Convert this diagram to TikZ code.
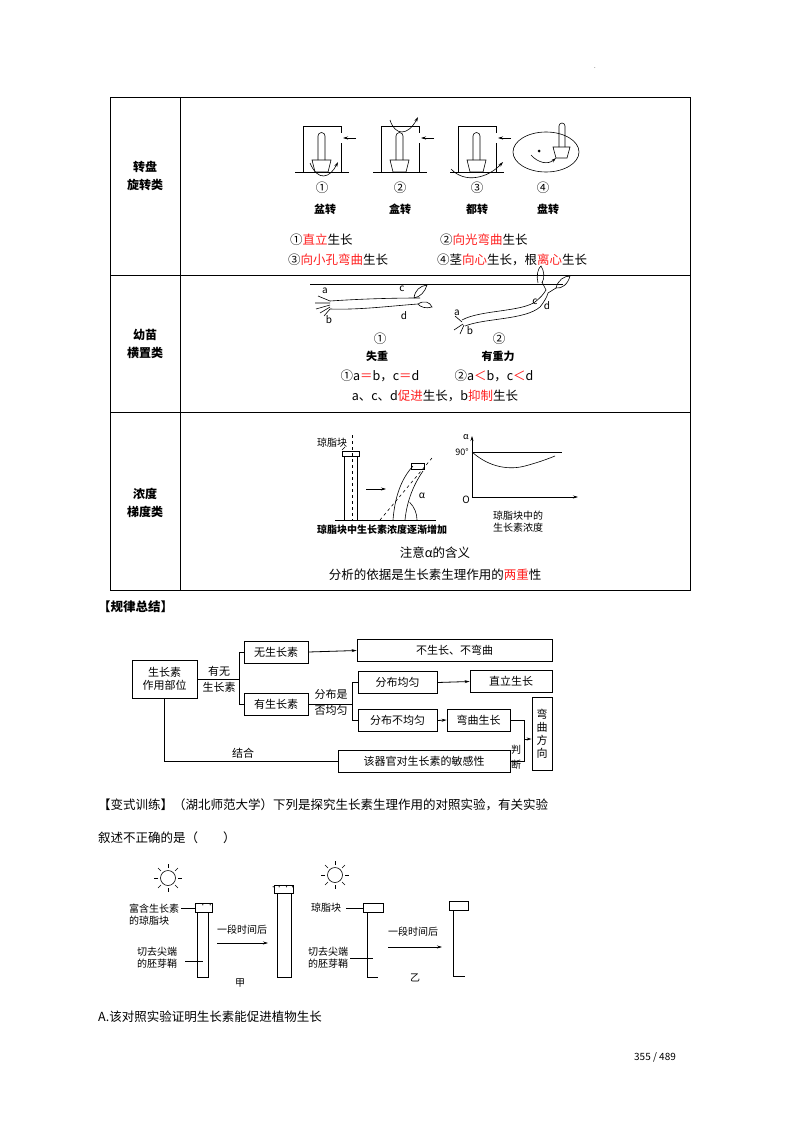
\documentclass[tikz,border=0pt]{standalone}
\usepackage{fontspec}
\setmainfont{Noto Sans CJK SC}
\usetikzlibrary{arrows.meta,calc}
\definecolor{hl}{HTML}{FF2020}
\begin{document}
\begin{tikzpicture}[x=1pt,y=-1pt,
  txt/.style={font=\fontsize{12.5}{14}\selectfont,inner sep=0pt},
  lab/.style={font=\bfseries\fontsize{12}{14}\selectfont,inner sep=0pt,align=center},
  small/.style={font=\fontsize{10}{12}\selectfont,inner sep=0pt,align=center},
  fbox/.style={draw,thick,font=\fontsize{11}{13}\selectfont,inner sep=0pt,minimum height=22pt},
  ft/.style={font=\fontsize{11}{13}\selectfont,inner sep=0pt},
  arr/.style={-{Stealth[length=5pt,width=3pt]}},
  fig/.style={line width=0.6pt}]
\useasboundingbox (0,0) rectangle (800,1132);
\fill[white] (0,0) rectangle (800,1132);
\node[small,font=\fontsize{6}{6}\selectfont] (dot) at (595,68) {.};
% table
\draw[line width=0.9pt] (110,97) rectangle (690,590);
\draw[line width=0.9pt] (180,97) -- (180,590);
\draw[line width=0.9pt] (110,275) -- (690,275) (110,412) -- (690,412);
\node[lab] (l1) at (145,176) {转盘\\[4pt]旋转类};
\node[lab] (l2) at (145,344) {幼苗\\[4pt]横置类};
\node[lab] (l3) at (145,503) {浓度\\[4pt]梯度类};
% row1 figures
\foreach \cx/\k in {322/1,400/2,477/3}{
  \draw[fig] (\cx-27,172) -- (\cx+27,172);
  \draw[fig] (\cx-19,172) -- (\cx-19,126) -- (\cx+19,126) -- (\cx+19,133) (\cx+19,143) -- (\cx+19,172);
  \draw[fig,arr] (\cx+34,138) -- (\cx+21,138);
  \draw[fig] (\cx-10,160) -- (\cx+9,160) -- (\cx+6,172) -- (\cx-7,172) -- cycle;
  \draw[fig] (\cx-4,160) -- (\cx-4,136) arc (180:360:3.5) -- (\cx+3,160);
}
\draw[fig,arr] (310,163) .. controls (318,182) and (330,178) .. (338,162);
\draw[fig,arr] (390,120) .. controls (395,136) and (408,136) .. (418,117);
\draw[fig,arr] (451,169) .. controls (465,184) and (488,178) .. (503,162);
\draw[fig] (546,152) ellipse (33 and 20);
\draw[fig] (553,147) -- (570,147) -- (567,158) -- (556,158) -- cycle;
\draw[fig] (559,147) -- (559,126) arc (180:360:3) -- (565,147);
\fill (539,151) circle (1.5);
\draw[fig,arr] (531,155) .. controls (538,163) and (548,165) .. (556,158);
\node[txt] (n1) at (322,188) {①};
\node[txt] (n2) at (400,188) {②};
\node[txt] (n3) at (477,188) {③};
\node[txt] (n4) at (543,188) {④};
\node[txt,font=\bfseries\fontsize{11}{12}\selectfont] (t1) at (325,209) {盆转};
\node[txt,font=\bfseries\fontsize{11}{12}\selectfont] (t2) at (400,209) {盒转};
\node[txt,font=\bfseries\fontsize{11}{12}\selectfont] (t3) at (477,209) {都转};
\node[txt,font=\bfseries\fontsize{11}{12}\selectfont] (t4) at (548,209) {盘转};
\node[txt,anchor=west] (r1a) at (290,240) {①\textcolor{hl}{直立}生长};
\node[txt,anchor=west] (r1b) at (440,240) {②\textcolor{hl}{向光弯曲}生长};
\node[txt,anchor=west] (r1c) at (288,260) {③\textcolor{hl}{向小孔弯曲}生长};
\node[txt,anchor=west] (r1d) at (437,260) {④茎\textcolor{hl}{向心}生长，根\textcolor{hl}{离心}生长};
% row2 seedlings
\draw[fig] (310,284) -- (563,284);
\draw[fig] (330,301) .. controls (360,299) and (390,298) .. (420,298);
\draw[fig] (330,309) .. controls (360,310) and (390,306) .. (418,304);
\draw[fig] (330,301) -- (318,296) (330,303) -- (315,303) (330,305) -- (316,309) (330,307) -- (320,313) (330,309) -- (324,316);
\draw[fig] (414,298) .. controls (415,290) and (420,286) .. (427,285) .. controls (425,292) and (420,297) .. (414,298);
\draw[fig] (418,304) .. controls (424,300) and (430,302) .. (432,307) .. controls (426,309) and (420,307) .. (418,304);
\node[small] (sa1) at (325,291) {a};
\node[small] (sb1) at (329,320) {b};
\node[small] (sc1) at (402,289) {c};
\node[small] (sd1) at (404,316) {d};
\draw[fig] (462,320) .. controls (480,310) and (520,312) .. (535,302) .. controls (540,298) and (543,295) .. (546,290);
\draw[fig] (465,326) .. controls (485,318) and (525,320) .. (540,307) .. controls (544,302) and (547,297) .. (548,293);
\draw[fig] (462,322) -- (455,316) (463,324) -- (454,330) (464,325) -- (460,334);
\draw[fig] (546,290) -- (542,282);
\draw[fig] (538,283) .. controls (536,276) and (538,268) .. (541,266) .. controls (544,270) and (545,278) .. (542,283);
\draw[fig] (548,293) -- (556,288);
\draw[fig] (556,288) .. controls (558,280) and (564,276) .. (570,276) .. controls (568,284) and (562,289) .. (556,288);
\node[small] (sa2) at (457,313) {a};
\node[small] (sb2) at (470,331) {b};
\node[small] (sc2) at (535,302) {c};
\node[small] (sd2) at (547,306) {d};
\node[txt] (m1) at (380,339) {①};
\node[txt] (m2) at (499,339) {②};
\node[txt,font=\bfseries\fontsize{11}{12}\selectfont] (u1) at (377,356) {失重};
\node[txt,font=\bfseries\fontsize{11}{12}\selectfont] (u2) at (498,356) {有重力};
\node[txt] (e1) at (380,376) {①a\textcolor{hl}{＝}b，c\textcolor{hl}{＝}d};
\node[txt] (e2) at (494,376) {②a\textcolor{hl}{＜}b，c\textcolor{hl}{＜}d};
\node[txt] (e3) at (435,396) {a、c、d\textcolor{hl}{促进}生长，b\textcolor{hl}{抑制}生长};
% row3
\node[small] (qz) at (332,443) {琼脂块};
\draw[fig] (335,520) -- (436,520);
\draw[fig] (344,520) -- (344,456) -- (357,456) -- (357,520);
\draw[fig] (342,451) rectangle (359,456);
\draw[fig,dashed] (352,435) -- (352,520);
\draw[fig] (342,450) -- (345,447);
\draw[fig,arr] (366,489) -- (386,489);
\draw[fig] (393,520) .. controls (395,495) and (402,478) .. (413,466);
\draw[fig] (405,520) .. controls (407,500) and (414,484) .. (423,471);
\draw[fig] (411,463) rectangle (424,469);
\draw[fig,dashed] (380,520) -- (432,458);
\draw[fig] (417,520) arc (0:-45:25);
\node[small,font=\itshape\fontsize{10}{12}\selectfont] (al) at (422,496) {α};
\node[small,font=\bfseries\fontsize{10}{12}\selectfont] (cap1) at (382,530) {琼脂块中生长素浓度逐渐增加};
\coordinate (o) at (472,497);
\draw[fig,arr] (o) -- (472,436);
\draw[fig,arr] (o) -- (578,497);
\draw[fig] (472,452) -- (562,452);
\draw[fig] (472,452) .. controls (490,468) and (510,470) .. (525,466) .. controls (540,462) and (550,458) .. (555,456);
\node[small,font=\itshape\fontsize{9}{10}\selectfont] (ya) at (466,437) {α};
\node[small,font=\fontsize{9}{10}\selectfont] (y90) at (462,452) {90°};
\node[small,font=\itshape\fontsize{10}{10}\selectfont] (oo) at (466,500) {O};
\node[small] (cap2) at (518,522) {琼脂块中的\\生长素浓度};
\node[txt] (z1) at (435,553) {注意α的含义};
\node[txt] (z2) at (435,575) {分析的依据是生长素生理作用的\textcolor{hl}{两重}性};
\node[txt,font=\bfseries\fontsize{12.5}{14}\selectfont,anchor=west] (gl) at (98,607) {【规律总结】};
% flowchart
\node[fbox,minimum width=65pt,minimum height=38pt,align=center] (b0) at (164.5,679) {生长素\\作用部位};
\node[ft,align=center] (yw) at (219,679) {有无\\[3pt]生长素};
\node[fbox,minimum width=64pt] (b1) at (276,652) {无生长素};
\node[fbox,minimum width=64pt] (b2) at (276,704.5) {有生长素};
\node[fbox,minimum width=195pt] (b3) at (454.5,650.5) {不生长、不弯曲};
\node[ft,align=center] (fb) at (331,702) {分布是\\[3pt]否均匀};
\node[fbox,minimum width=79pt] (b4) at (397.5,682.5) {分布均匀};
\node[fbox,minimum width=82pt] (b5) at (511,681.5) {直立生长};
\node[fbox,minimum width=79pt] (b6) at (397.5,720.5) {分布不均匀};
\node[fbox,minimum width=63pt] (b7) at (478.5,720) {弯曲生长};
\node[fbox,minimum width=20pt,minimum height=73pt,align=center] (b8) at (542,733.5) {弯\\曲\\方\\向};
\node[fbox,minimum width=172pt] (b9) at (424,761.5) {该器官对生长素的敏感性};
\node[ft,align=center,font=\fontsize{10}{12}\selectfont] (pd) at (516,757) {判\\[3pt]断};
\node[ft] (jh) at (243,753) {结合};
\draw[thick] (b0.east) -- (239,679);
\draw[thick] (b1.west) -| (239,704.5) -- (b2.west);
\draw[thick,arr] (b1.east) -- (b3.west);
\draw[thick] (b2.east) -- (352,704.5);
\draw[thick] (b4.west) -| (352,720.5) -- (b6.west);
\draw[thick,arr] (b4.east) -- (b5.west);
\draw[thick,arr] (b6.east) -- (b7.west);
\draw[thick] (b7.east) -| (524,745);
\draw[thick] (b9.east) -| (524,745);
\draw[thick,arr] (524,739) -- (b8.west |- 0,739);
\draw[thick] (b0.south) |- (b9.west);
% text
\node[txt,anchor=west] (q1) at (98,805) {【变式训练】（湖北师范大学）下列是探究生长素生理作用的对照实验，有关实验};
\node[txt,anchor=west] (q2) at (98,838) {叙述不正确的是（　　）};
% bottom experiment
\foreach \sx/\sy in {168/878,335/875}{
  \draw[fig] (\sx,\sy) circle (7.5);
  \foreach \a in {0,45,...,315}{\draw[fig] ($(\sx,\sy)+(\a:10)$) -- ($(\sx,\sy)+(\a:14)$);}
}
\draw[fig] (195,903) rectangle (212,912);
\draw[fig] (197,912) rectangle (208,977);
\node[small,font=\fontsize{6}{6}\selectfont] (dd) at (203,906) {· · ·};
\node[small,align=left] (lb1) at (154,915) {富含生长素\\的琼脂块};
\draw[fig] (181,908) -- (195,908);
\node[small,align=left] (lb2) at (157,958) {切去尖端\\的胚芽鞘};
\draw[fig] (185,961) -- (203,961);
\node[small] (t1a) at (242,930) {一段时间后};
\draw[fig,arr] (217,943) -- (268,943);
\draw[fig] (274,885) rectangle (293,893);
\draw[fig] (277,893) rectangle (291,977);
\node[small,font=\fontsize{6}{6}\selectfont] (dd2) at (283,888) {·· ··};
\node[small] (jia) at (240,983) {甲};
\node[small] (lb3) at (326,908) {琼脂块};
\draw[fig] (346,908) -- (363,908);
\draw[fig] (363,903) rectangle (383,912);
\draw[fig] (367,912) -- (367,977) -- (378,977);
\node[small,align=left] (lb4) at (328,958) {切去尖端\\的胚芽鞘};
\draw[fig] (350,958) -- (373,958);
\node[small] (t2a) at (413,932) {一段时间后};
\draw[fig,arr] (388,947) -- (442,947);
\draw[fig] (449,901) rectangle (468,910);
\draw[fig] (453,910) -- (453,976) -- (465,976);
\node[small] (yi) at (415,978) {乙};
\node[txt,anchor=west] (ansA) at (98,1017) {A.该对照实验证明生长素能促进植物生长};
\node[small] (pg) at (655,1057) {355 / 489};
\end{tikzpicture}
\end{document}
